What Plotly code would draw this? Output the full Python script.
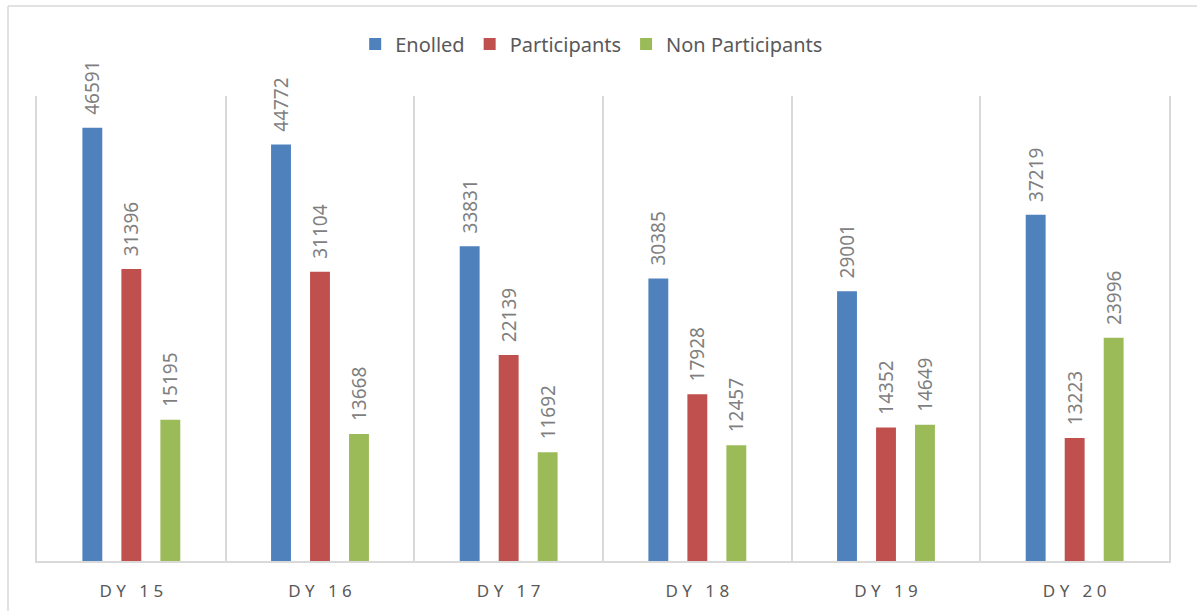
import plotly.graph_objects as go

categories = ["DY 15", "DY 16", "DY 17", "DY 18", "DY 19", "DY 20"]
enrolled = [46591, 44772, 33831, 30385, 29001, 37219]
participants = [31396, 31104, 22139, 17928, 14352, 13223]
non_participants = [15195, 13668, 11692, 12457, 14649, 23996]
series_names = ["Enolled", "Participants", "Non Participants"]
colors = ["#4f81bd", "#c0504d", "#9bbb59"]

NBSP = "\u00a0"
def spaced(s):
    return (NBSP * 3).join(NBSP.join(w) for w in s.split(" "))
tick_text = [spaced(c) for c in categories]

FONT = "Noto Sans"
W, H = 1197, 611
L, R, T, B = 37, W - 1169, 96, H - 561

fig = go.Figure()
for name, vals, col in zip(series_names, [enrolled, participants, non_participants], colors):
    fig.add_trace(go.Bar(
        x=categories, y=vals, name=name, marker=dict(color=col, line=dict(width=0)),
        text=[NBSP * 2 + str(v) for v in vals], textposition="outside", textangle=-90,
        textfont=dict(family=FONT, size=19, color="#7f7f7f"),
        constraintext="none", cliponaxis=False,
    ))

fig.update_layout(
    width=W, height=H,
    margin=dict(l=L, r=R, t=T, b=B, autoexpand=False),
    paper_bgcolor="white", plot_bgcolor="white",
    barmode="group", bargap=0.38, bargroupgap=0.49,
    font=dict(family=FONT, color="#595959"),
    legend=dict(orientation="h", x=0.49, xanchor="center", yref="container",
                y=1 - 44 / H, yanchor="middle", bgcolor="rgba(0,0,0,0)",
                font=dict(family=FONT, size=20, color="#595959"), itemwidth=30,
                traceorder="normal"),
)
fig.update_xaxes(
    tickmode="array", tickvals=categories, ticktext=tick_text,
    tickfont=dict(family=FONT, size=17, color="#595959"),
    showgrid=True, gridcolor="#d9d9d9", gridwidth=1.5, tickson="boundaries",
    showline=True, linecolor="#d9d9d9", linewidth=1.5,
    ticks="", ticklen=0, ticklabelstandoff=14,
)
fig.update_yaxes(range=[0, 50000], showgrid=False, showticklabels=False, zeroline=False,
                 showline=True, mirror=True, linecolor="#d9d9d9", linewidth=1.5)

# outer chart frame (left and top edges)
fx = (8 - L) / (W - L - R)
fy = 1 + (T - 6) / (H - T - B)
fig.add_shape(type="line", xref="paper", yref="paper", x0=fx, x1=fx,
              y0=-0.2, y1=fy, line=dict(color="#d9d9d9", width=1.5))
fig.add_shape(type="line", xref="paper", yref="paper", x0=fx, x1=1.1,
              y0=fy, y1=fy, line=dict(color="#d9d9d9", width=1.5))

fig.write_html("out.html", config={"displayModeBar": False},
               post_script="document.body.style.margin='0px';")
